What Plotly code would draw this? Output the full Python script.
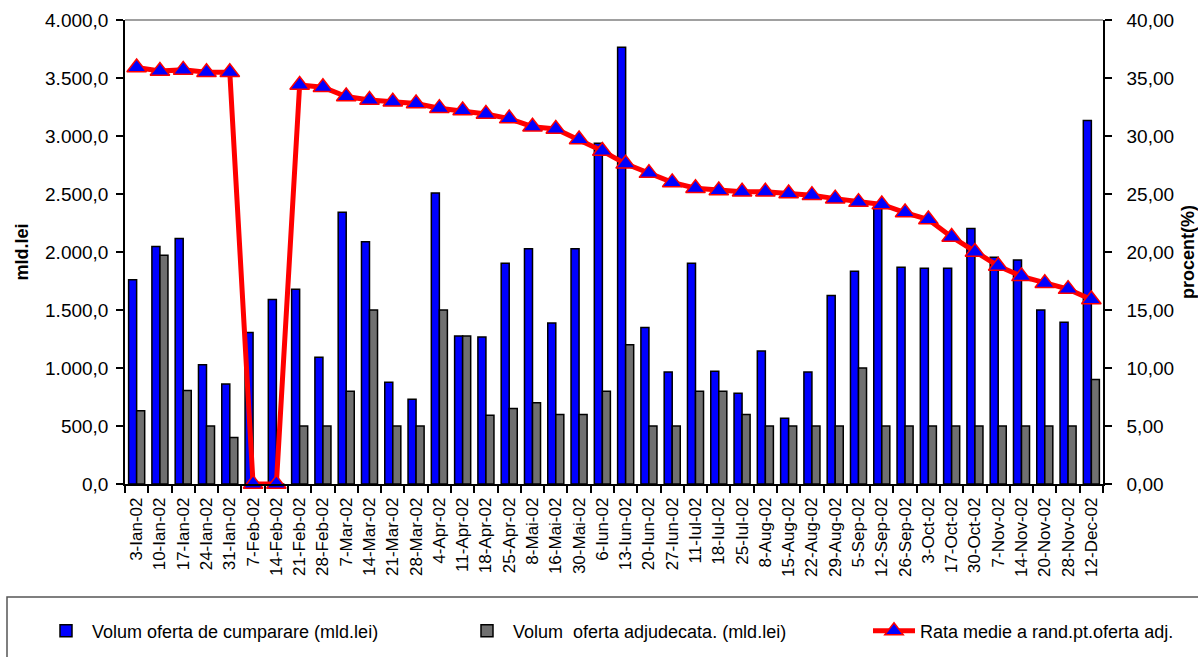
import plotly.graph_objects as go

categories = ["3-Ian-02", "10-Ian-02", "17-Ian-02", "24-Ian-02", "31-Ian-02", "7-Feb-02", "14-Feb-02",
              "21-Feb-02", "28-Feb-02", "7-Mar-02", "14-Mar-02", "21-Mar-02", "28-Mar-02", "4-Apr-02",
              "11-Apr-02", "18-Apr-02", "25-Apr-02", "8-Mai-02", "16-Mai-02", "30-Mai-02", "6-Iun-02",
              "13-Iun-02", "20-Iun-02", "27-Iun-02", "11-Iul-02", "18-Iul-02", "25-Iul-02", "8-Aug-02",
              "15-Aug-02", "22-Aug-02", "29-Aug-02", "5-Sep-02", "12-Sep-02", "26-Sep-02", "3-Oct-02",
              "17-Oct-02", "30-Oct-02", "7-Nov-02", "14-Nov-02", "20-Nov-02", "28-Nov-02", "12-Dec-02"]

volum_cumparare = [1760, 2047, 2117, 1028, 863, 1305, 1591, 1678, 1092, 2342, 2088, 878, 730, 2509,
                   1276, 1268, 1903, 2027, 1389, 2027, 2937, 3766, 1349, 965, 1903, 973, 783, 1147,
                   566, 965, 1625, 1833, 2385, 1868, 1860, 1860, 2203, 1955, 1932, 1499, 1395, 3133]

volum_adjudecat = [632, 1972, 806, 500, 401, 0, 0, 500, 500, 800, 1500, 500, 500, 1500,
                   1276, 592, 650, 700, 600, 600, 800, 1200, 500, 500, 800, 800, 600, 500,
                   500, 500, 500, 1000, 500, 500, 500, 500, 500, 500, 500, 500, 500, 900]

rata_medie = [35.9, 35.6, 35.7, 35.5, 35.5, 0.0, 0.0, 34.4, 34.2, 33.4, 33.1, 32.95, 32.8, 32.4,
              32.2, 31.9, 31.5, 30.8, 30.6, 29.7, 28.7, 27.6, 26.8, 26.0, 25.5, 25.3, 25.2, 25.2,
              25.05, 24.9, 24.6, 24.3, 24.1, 23.4, 22.8, 21.3, 20.0, 18.8, 17.9, 17.3, 16.8, 15.9]

FONT = "Liberation Sans, Arial, sans-serif"

fig = go.Figure()
fig.add_trace(go.Bar(
    x=categories, y=volum_cumparare, name="Volum oferta de cumparare (mld.lei)",
    marker=dict(color="#0000FF", line=dict(color="#000000", width=1.5)),
    legend="legend",
))
fig.add_trace(go.Bar(
    x=categories, y=volum_adjudecat, name="Volum  oferta adjudecata. (mld.lei)",
    marker=dict(color="#707070", line=dict(color="#000000", width=1.5)),
    legend="legend2",
))
fig.add_trace(go.Scatter(
    x=categories, y=rata_medie, name="Rata medie a rand.pt.oferta adj.", yaxis="y2",
    mode="lines+markers", cliponaxis=False,
    line=dict(color="#FF0000", width=5),
    marker=dict(symbol="triangle-up", size=17, color="#0000FF", line=dict(color="#FF0000", width=1.5)),
    legend="legend3",
))

L, R, T, B = 125, 95, 20, 173
W, H = 1198, 657
pw = W - L - R
ph = H - T - B

def px_x(p):
    return (p - L) / pw

def px_y(p):
    return (H - B - p) / ph

legend_common = dict(orientation="h", yanchor="middle", xanchor="left",
                     font=dict(family=FONT, size=18, color="#000"),
                     bgcolor="rgba(0,0,0,0)", itemwidth=42, y=px_y(631))

fig.update_layout(
    width=W, height=H,
    margin=dict(l=L, r=R, t=T, b=B, autoexpand=False),
    paper_bgcolor="white", plot_bgcolor="white",
    separators=",.",
    barmode="group", bargap=0.31, bargroupgap=0,
    font=dict(family=FONT, size=19, color="#000"),
    xaxis=dict(
        type="category", tickangle=-90, tickson="boundaries", automargin=False,
        range=[-0.5, len(categories) - 0.5],
        ticks="outside", ticklen=7, tickcolor="#000", tickwidth=1.5,
        showline=True, linecolor="#000", linewidth=1.5,
        tickfont=dict(family=FONT, size=17, color="#000"),
        ticklabelstandoff=5,
        showgrid=False,
    ),
    yaxis=dict(
        range=[0, 4000], dtick=500, tickformat=",.1f", automargin=False,
        ticks="outside", ticklen=7, tickcolor="#000", tickwidth=1.5,
        showline=True, linecolor="#000", linewidth=1.5, showgrid=False, zeroline=False,
        tickfont=dict(family=FONT, size=19, color="#000"),
        ticklabelstandoff=4,
        title=dict(text="<b>mld.lei</b>", font=dict(family=FONT, size=18, color="#000"), standoff=12),
    ),
    yaxis2=dict(
        range=[0, 40], dtick=5, tickformat=".2f", overlaying="y", side="right", automargin=False,
        ticks="outside", ticklen=7, tickcolor="#000", tickwidth=1.5,
        showline=True, linecolor="#000", linewidth=1.5, showgrid=False, zeroline=False,
        tickfont=dict(family=FONT, size=19, color="#000"),
        ticklabelstandoff=11,
        title=dict(text="<b>procent(%)</b>", font=dict(family=FONT, size=18, color="#000"), standoff=21),
    ),
    legend=dict(x=px_x(40), **legend_common),
    legend2=dict(x=px_x(461), **legend_common),
    legend3=dict(x=px_x(868), **legend_common),
    shapes=[
        dict(type="line", xref="paper", yref="paper", x0=0, x1=1, y0=1, y1=1,
             line=dict(color="#808080", width=1.5)),
        dict(type="rect", xref="paper", yref="paper",
             x0=px_x(7), x1=px_x(1260), y0=px_y(597), y1=px_y(700),
             line=dict(color="#555555", width=1.5), fillcolor="rgba(0,0,0,0)", layer="below"),
    ],
    showlegend=True,
)

fig.write_html("out.html", config={"displayModeBar": False},
               post_script="document.body.style.margin='0px';")
